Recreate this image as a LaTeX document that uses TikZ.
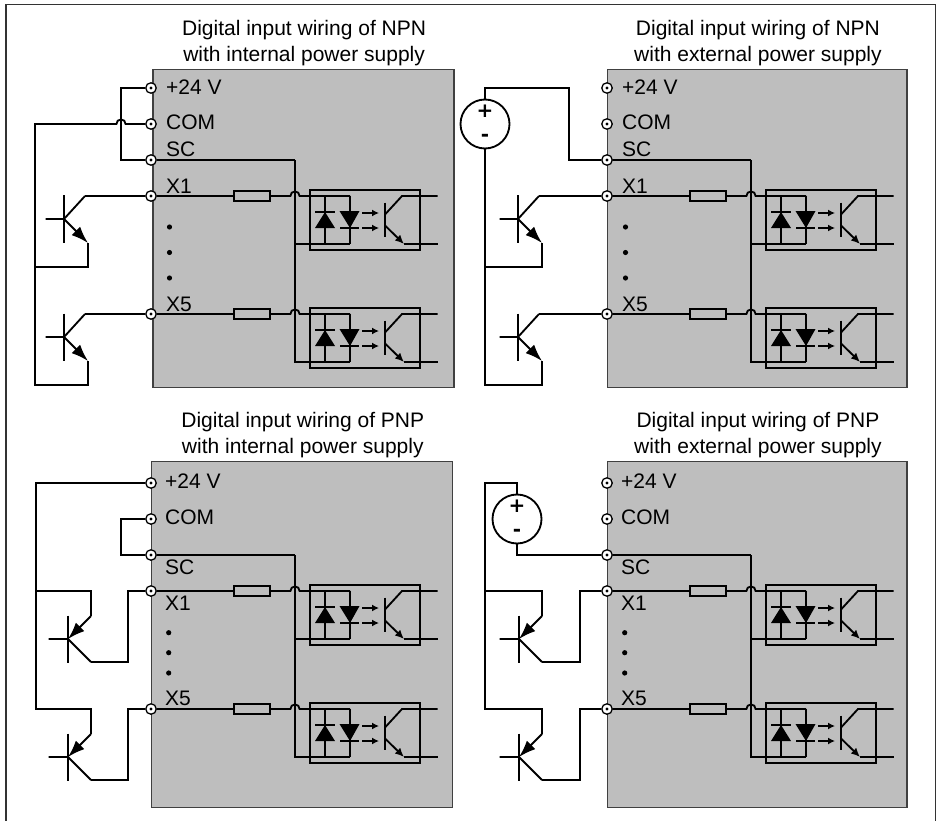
\documentclass[tikz,border=0pt]{standalone}
\usepackage{fontspec}
\setmainfont{Liberation Sans}
\newfontfamily\signfont{DejaVu Sans Bold}
\usetikzlibrary{positioning,calc,arrows.meta}

\definecolor{panelgray}{HTML}{BEBEBE}

\tikzset{
    x=1pt,y=1pt,
    wire/.style={line width=1.85pt,line join=miter},
    frame/.style={line width=1.6pt,draw=black!80},
    panel/.style={draw=black!75,line width=1.2pt,fill=panelgray,inner sep=0pt,anchor=north west},
    terminal/.style={circle,draw,fill=white,line width=1.3pt,inner sep=0pt,minimum size=10.5pt},
    resistor/.style={rectangle,draw,fill=panelgray,line width=1.85pt,inner sep=0pt,minimum width=36pt,minimum height=10pt},
    optobox/.style={rectangle,draw,line width=1.85pt,inner sep=0pt,minimum width=110pt,minimum height=60pt},
    source/.style={circle,draw,fill=white,line width=1.85pt,inner sep=0pt,minimum size=49pt},
    lbl/.style={inner sep=0pt,anchor=base west,font=\fontsize{21}{25}\selectfont},
    title/.style={inner sep=0pt,align=center,font=\fontsize{21}{25.5}\selectfont},
    sign/.style={inner sep=0pt,anchor=base,font=\signfont\fontsize{20}{20}\selectfont},
    pics/npn/.style={code={
        \coordinate (-c) at (21,23);
        \coordinate (-e) at (24,-24);
        \coordinate (-j) at (0,0);
        \draw[wire] (0,23.5) -- (0,-23.5);
        \draw[wire] (-18.5,0) -- (-j) -- (-c);
        \draw[wire,-{Latex[length=17pt,width=12pt]}] (-j) -- (-e);
    }},
    pics/pnp/.style={code={
        \coordinate (-in) at (23,23);
        \coordinate (-out) at (23,-23);
        \coordinate (-j) at (0,0);
        \draw[wire] (0,23.5) -- (0,-23.5);
        \draw[wire] (-19.5,0) -- (-j) -- (-out);
        \draw[wire,-{Latex[length=17pt,width=12pt]}] (-in) -- (-j);
    }},
    pics/opto/.style={code={
        \coordinate (-in) at (0,0);
        \coordinate (-out) at (0,-48);
        \coordinate (-mid) at (-25,0);
        \node[optobox] (-box) at (15,-24) {};
        % wires and the two diodes
        \draw[wire] (-in) -- (-out);
        \draw[wire] (-mid) -- ($(-mid)+(0,-48)$);
        \fill (-25,-16) -- (-15,-32) -- (-35,-32) -- cycle;
        \draw[wire] (-35,-16) -- (-15,-16);
        \fill (-10.5,-15) -- (9.5,-15) -- (0,-32) -- cycle;
        \draw[wire] (-10,-32) -- (9,-32);
        \draw[wire,-{Latex[length=7pt,width=7pt]}] (12,-17) -- (29,-17);
        \draw[wire,-{Latex[length=7pt,width=7pt]}] (12,-32) -- (29,-32);
        % output transistor
        \coordinate (-oc) at (52,0);
        \coordinate (-oe) at (54,-48);
        \draw[wire] (35,-6.5) -- (35,-41);
        \draw[wire] (35,-18.5) -- (-oc) -- (87.5,0);
        \draw[wire,-{Latex[length=9pt,width=8pt]}] (35,-29.5) -- (-oe);
        \draw[wire] (-oe) -- (87.5,-48);
    }},
    pics/NPNlabels/.style={code={
        \node[lbl] (-l24) at ($(-p24)+(15,-7)$) {+24 V};
        \node[lbl] (-lcom) at ($(-com)+(15,-6)$) {COM};
        \node[lbl] (-lsc) at ($(-sc)+(15,3)$) {SC};
        \node[lbl] (-lx1) at ($(-x1)+(15,2.5)$) {X1};
        \node[lbl] (-lx5) at ($(-x5)+(15,3)$) {X5};
        \foreach \dotpos in {-139,-164.5,-190}
            \fill (18.5,\dotpos) circle (2.6);
    }},
    pics/PNPlabels/.style={code={
        \node[lbl] (-l24) at ($(-p24)+(14,-5)$) {+24 V};
        \node[lbl] (-lcom) at ($(-com)+(14,-5)$) {COM};
        \node[lbl] (-lsc) at ($(-sc)+(14,-19)$) {SC};
        \node[lbl] (-lx1) at ($(-x1)+(14,-19)$) {X1};
        \node[lbl] (-lx5) at ($(-x5)+(14,3.3)$) {X5};
        \foreach \dotpos in {-149.7,-169.7,-190}
            \fill (17.7,\dotpos) circle (2.6);
    }},
    % #1 = NPN/PNP, #2 = internal/external, #3,#4 = box corner, #5,#6 = box size
    pics/board/.style n args={6}{code={
        \node[panel,minimum width=#5pt,minimum height=#6pt] (-box) at (#3,#4) {};
        \node[title,above=3.2pt of -box,xshift=0.7pt] (-title) {Digital input wiring of #1\\with #2 power supply};
        \coordinate (-bt) at (144,-72);
        \coordinate (-j1) at (139.4,-108);
        \coordinate (-j5) at (139.4,-226);
        \pic (-o1) at (199,-108) {opto};
        \pic (-o5) at (199,-226) {opto};
        \coordinate (-bb) at ($(-o5-out)+(-55,0)$);
        \draw[wire] (-bt) -- (-bb) -- (-o5-out);
        \draw[wire] (-bt |- -o1-out) -- (-o1-out);
        \node[resistor] (-r1) at (101,-108) {};
        \node[resistor] (-r5) at (101,-226) {};
        \node[terminal] (-p24) at (0,0) {};
        \node[terminal] (-com) at (0,-36) {};
        \node[terminal] (-sc) at (0,-72) {};
        \node[terminal] (-x1) at (0,-108) {};
        \node[terminal] (-x5) at (0,-226) {};
        \foreach \tname in {-p24,-com,-sc,-x1,-x5}
            \fill (\tname) circle (1.6);
        \draw[wire] (-sc) -- (-bt);
        \draw[wire] (-x1) -- (-r1) -- (-j1) arc[start angle=180,end angle=0,radius=4.6] -- (-o1-in);
        \draw[wire] (-x5) -- (-r5) -- (-j5) arc[start angle=180,end angle=0,radius=4.6] -- (-o5-in);
        \pic {#1labels};
    }}
}

\begin{document}
\begin{tikzpicture}
    \path[fill=white,use as bounding box] (0,0) rectangle (939,-821);
    \coordinate (fa) at (6,-821);
    \coordinate (fb) at (6,-4.7);
    \coordinate (fc) at (935.3,-4.7);
    \coordinate (fd) at (935.3,-821);
    \draw[frame] (fa) -- (fb) -- (fc) -- (fd);

    % NPN, internal supply
    \pic (a) at (151,-88) {board={NPN}{internal}{1.3}{19}{301}{318}};
    \pic (a1) at (64,-219) {npn};
    \pic (a2) at (64,-337) {npn};
    \coordinate (at) at (121,-88);
    \coordinate (ab) at (at |- a-sc);
    \coordinate (ajr) at (125.6,-124);
    \coordinate (al) at (35,-124);
    \coordinate (a1d) at ($(a1-e)+(0,-24)$);
    \coordinate (a2d) at ($(a2-e)+(0,-24)$);
    \draw[wire] (a-p24) -- (at) -- (ab) -- (a-sc);
    \draw[wire] (a-com) -- (ajr) arc[start angle=0,end angle=180,radius=4.6] -- (al) -- (al |- a2d) -- (a2d) -- (a2-e);
    \draw[wire] (a-x1) -- (a1-c);
    \draw[wire] (a-x5) -- (a2-c);
    \draw[wire] (a1-e) -- (a1d) -- (a1d -| al);

    % NPN, external supply
    \pic (b) at (607,-88) {board={NPN}{external}{0}{19}{299.3}{318}};
    \pic (b1) at (518,-219) {npn};
    \pic (b2) at (518,-337) {npn};
    \node[source] (bs) at (485,-124) {};
    \node[sign] (bplus) at ($(bs)+(0,6.5)$) {+};
    \node[sign] (bminus) at ($(bs)+(0,-17.5)$) {-};
    \coordinate (bt) at (485,-88);
    \coordinate (bu) at (569,-88);
    \coordinate (b1d) at ($(b1-e)+(0,-24)$);
    \coordinate (b2d) at ($(b2-e)+(0,-24)$);
    \draw[wire] (bs) -- (bt) -- (bu) -- (bu |- b-sc) -- (b-sc);
    \draw[wire] (bs) -- (bs |- b2d) -- (b2d) -- (b2-e);
    \draw[wire] (b-x1) -- (b1-c);
    \draw[wire] (b-x5) -- (b2-c);
    \draw[wire] (b1-e) -- (b1d) -- (b1d -| bs);

    % PNP, internal supply
    \pic (c) at (151,-483) {board={PNP}{internal}{0}{22}{301}{346}};
    \pic (c1) at (68,-639) {pnp};
    \pic (c2) at (68,-757) {pnp};
    \coordinate (cl) at (36,-483);
    \coordinate (cu) at (121,-519);
    \coordinate (c1r) at (128,-662);
    \coordinate (c2r) at (128,-780);
    \draw[wire] (c-p24) -- (cl) -- (cl |- c-x5) -- (c2-in |- c-x5) -- (c2-in) ;
    \draw[wire] (cl |- c-x1) -- (c1-in |- c-x1) -- (c1-in);
    \draw[wire] (c-com) -- (cu) -- (cu |- c-sc) -- (c-sc);
    \draw[wire] (c1-out) -- (c1r) -- (c1r |- c-x1) -- (c-x1);
    \draw[wire] (c2-out) -- (c2r) -- (c2r |- c-x5) -- (c-x5);

    % PNP, external supply
    \pic (d) at (607,-483) {board={PNP}{external}{0}{22}{299.3}{346}};
    \pic (d1) at (519,-639) {pnp};
    \pic (d2) at (519,-757) {pnp};
    \node[source] (ds) at (517,-519) {};
    \node[sign] (dplus) at ($(ds)+(0,6.5)$) {+};
    \node[sign] (dminus) at ($(ds)+(0,-17.5)$) {-};
    \coordinate (dt) at (517,-483);
    \coordinate (dl) at (485,-483);
    \coordinate (d1r) at (580,-662);
    \coordinate (d2r) at (580,-780);
    \draw[wire] (ds) -- (dt) -- (dl) -- (dl |- d-x5) -- (d2-in |- d-x5) -- (d2-in);
    \draw[wire] (dl |- d-x1) -- (d1-in |- d-x1) -- (d1-in);
    \draw[wire] (ds) -- (ds |- d-sc) -- (d-sc);
    \draw[wire] (d1-out) -- (d1r) -- (d1r |- d-x1) -- (d-x1);
    \draw[wire] (d2-out) -- (d2r) -- (d2r |- d-x5) -- (d-x5);
\end{tikzpicture}
\end{document}
